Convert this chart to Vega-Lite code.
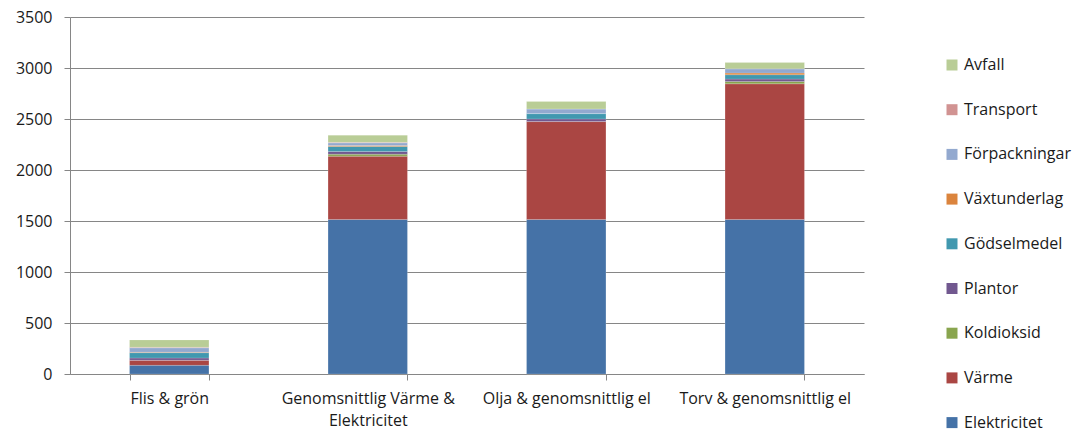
{
  "$schema": "https://vega.github.io/schema/vega-lite/v6.json",
  "width": 794,
  "height": 357,
  "autosize": {"type": "none"},
  "padding": {"left": 70, "top": 17, "right": 217, "bottom": 58},
  "background": "white",
  "config": {
    "view": {"stroke": null},
    "font": "Open Sans",
    "axis": {"labelFont": "Open Sans", "labelFontSize": 16, "labelColor": "#1a1a1a", "domainColor": "#868686", "tickColor": "#868686", "gridColor": "#868686", "title": null},
    "legend": {"labelFont": "Open Sans", "labelFontSize": 16, "labelColor": "#1a1a1a"}
  },
  "data": {
    "values": [
      {"scenario": "Flis & grön", "kategori": "Elektricitet", "co2": 85},
      {"scenario": "Flis & grön", "kategori": "Värme", "co2": 50},
      {"scenario": "Flis & grön", "kategori": "Koldioksid", "co2": 0},
      {"scenario": "Flis & grön", "kategori": "Plantor", "co2": 22},
      {"scenario": "Flis & grön", "kategori": "Gödselmedel", "co2": 52},
      {"scenario": "Flis & grön", "kategori": "Växtunderlag", "co2": 5},
      {"scenario": "Flis & grön", "kategori": "Förpackningar", "co2": 43},
      {"scenario": "Flis & grön", "kategori": "Transport", "co2": 5},
      {"scenario": "Flis & grön", "kategori": "Avfall", "co2": 72},
      {"scenario": "Genomsnittlig Värme & Elektricitet", "kategori": "Elektricitet", "co2": 1515},
      {"scenario": "Genomsnittlig Värme & Elektricitet", "kategori": "Värme", "co2": 620},
      {"scenario": "Genomsnittlig Värme & Elektricitet", "kategori": "Koldioksid", "co2": 20},
      {"scenario": "Genomsnittlig Värme & Elektricitet", "kategori": "Plantor", "co2": 26},
      {"scenario": "Genomsnittlig Värme & Elektricitet", "kategori": "Gödselmedel", "co2": 49},
      {"scenario": "Genomsnittlig Värme & Elektricitet", "kategori": "Växtunderlag", "co2": 10},
      {"scenario": "Genomsnittlig Värme & Elektricitet", "kategori": "Förpackningar", "co2": 26},
      {"scenario": "Genomsnittlig Värme & Elektricitet", "kategori": "Transport", "co2": 5},
      {"scenario": "Genomsnittlig Värme & Elektricitet", "kategori": "Avfall", "co2": 70},
      {"scenario": "Olja & genomsnittlig el", "kategori": "Elektricitet", "co2": 1515},
      {"scenario": "Olja & genomsnittlig el", "kategori": "Värme", "co2": 960},
      {"scenario": "Olja & genomsnittlig el", "kategori": "Koldioksid", "co2": 0},
      {"scenario": "Olja & genomsnittlig el", "kategori": "Plantor", "co2": 26},
      {"scenario": "Olja & genomsnittlig el", "kategori": "Gödselmedel", "co2": 52},
      {"scenario": "Olja & genomsnittlig el", "kategori": "Växtunderlag", "co2": 0},
      {"scenario": "Olja & genomsnittlig el", "kategori": "Förpackningar", "co2": 46},
      {"scenario": "Olja & genomsnittlig el", "kategori": "Transport", "co2": 0},
      {"scenario": "Olja & genomsnittlig el", "kategori": "Avfall", "co2": 72},
      {"scenario": "Torv & genomsnittlig el", "kategori": "Elektricitet", "co2": 1515},
      {"scenario": "Torv & genomsnittlig el", "kategori": "Värme", "co2": 1330},
      {"scenario": "Torv & genomsnittlig el", "kategori": "Koldioksid", "co2": 23},
      {"scenario": "Torv & genomsnittlig el", "kategori": "Plantor", "co2": 23},
      {"scenario": "Torv & genomsnittlig el", "kategori": "Gödselmedel", "co2": 43},
      {"scenario": "Torv & genomsnittlig el", "kategori": "Växtunderlag", "co2": 16},
      {"scenario": "Torv & genomsnittlig el", "kategori": "Förpackningar", "co2": 43},
      {"scenario": "Torv & genomsnittlig el", "kategori": "Transport", "co2": 0},
      {"scenario": "Torv & genomsnittlig el", "kategori": "Avfall", "co2": 60}
    ]
  },
  "transform": [
    {"calculate": "indexof(['Elektricitet', 'Värme', 'Koldioksid', 'Plantor', 'Gödselmedel', 'Växtunderlag', 'Förpackningar', 'Transport', 'Avfall'], datum.kategori)", "as": "lager"}
  ],
  "mark": {"type": "bar", "stroke": "white", "strokeOpacity": 0.35, "strokeWidth": 0.5},
  "encoding": {
    "x": {
      "field": "scenario",
      "type": "nominal",
      "sort": null,
      "scale": {"paddingInner": 0.6, "paddingOuter": 0.3},
      "axis": {
        "labelAngle": 0,
        "tickBand": "extent",
        "tickSize": 6,
        "labelPadding": 10,
        "labelLineHeight": 22,
        "labelExpr": "datum.label == 'Genomsnittlig Värme & Elektricitet' ? ['Genomsnittlig Värme &', 'Elektricitet'] : datum.label"
      }
    },
    "y": {
      "field": "co2",
      "type": "quantitative",
      "stack": "zero",
      "scale": {"domain": [0, 3500], "nice": false},
      "axis": {"values": [0, 500, 1000, 1500, 2000, 2500, 3000, 3500], "tickSize": 6, "labelPadding": 12, "grid": true, "format": "d"}
    },
    "order": {"field": "lager", "type": "quantitative", "sort": "ascending"},
    "color": {
      "field": "kategori",
      "type": "nominal",
      "scale": {
        "domain": ["Elektricitet", "Värme", "Koldioksid", "Plantor", "Gödselmedel", "Växtunderlag", "Förpackningar", "Transport", "Avfall"],
        "range": ["#4572A7", "#AA4643", "#89A54E", "#71588F", "#4198AF", "#DB843D", "#93A9CF", "#D19392", "#B9CD96"]
      },
      "legend": {
        "title": null,
        "orient": "none",
        "legendX": 874,
        "legendY": 40,
        "values": ["Avfall", "Transport", "Förpackningar", "Växtunderlag", "Gödselmedel", "Plantor", "Koldioksid", "Värme", "Elektricitet"],
        "symbolType": "square",
        "symbolSize": 121,
        "symbolStrokeWidth": 0,
        "symbolOpacity": 1,
        "labelOffset": 4,
        "rowPadding": 28.7
      }
    }
  }
}
